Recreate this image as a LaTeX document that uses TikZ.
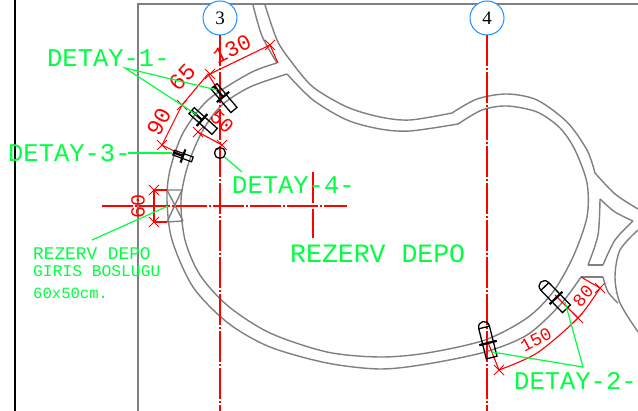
\documentclass[tikz,border=0pt]{standalone}
\usepackage{fontspec}
\setmainfont{Liberation Mono}
\newfontfamily\axisfont{Liberation Serif}
\usepackage{xcolor}
\usetikzlibrary{positioning}
\definecolor{wallgray}{RGB}{128,128,128}
\definecolor{detgreen}{RGB}{0,255,64}
\definecolor{axisblue}{RGB}{30,144,255}
\tikzset{
  wall/.style={draw=wallgray, line width=1.4pt},
  axisline/.style={draw=red, line width=1.3pt, dash pattern=on 31pt off 2pt on 2pt off 2pt},
  dimline/.style={draw=red, line width=1.1pt},
  leader/.style={draw=detgreen, line width=1.2pt},
  axisnode/.style={circle, draw=axisblue, fill=white, line width=1pt, minimum size=34pt, inner sep=0pt, font=\fontsize{19}{19}\axisfont},
  dettext/.style={text=detgreen, inner sep=0pt, anchor=west, font=\fontsize{25.5}{25.5}\selectfont},
  smalltext/.style={text=detgreen, inner sep=0pt, anchor=west},
  dimtext/.style={text=red, inner sep=0pt},
  cross/.pic={\draw[red, line width=.8pt] (-5,-5) -- (5,5) (-5,5) -- (5,-5);},
  doorbig/.pic={
    \draw[black, line width=1.3pt] (-16,-5.5) .. controls (-24,-5.5) and (-24,5.5) .. (-16,5.5) -- (15,5.5) -- (15,-5.5) -- cycle;
    \draw[black, line width=1.3pt] (-16,-5.5) -- (-16,5.5);
    \draw[black, line width=2.2pt] (0,-9) -- (0,9);
  },
  doorsmall/.pic={
    \draw[black, line width=1.3pt] (-14,-4) -- (17,-4) -- (17,4) -- (-14,4) -- cycle;
    \draw[black, line width=2.2pt] (-14,0) -- (0,0) (0,-8) -- (0,8);
  },
  doortiny/.pic={
    \draw[black, line width=1.2pt] (-10,-2.5) -- (10,-2.5) -- (10,2.5) -- (-10,2.5) -- cycle;
    \draw[black, line width=2.2pt] (-10,0) -- (0,0) (0,-7) -- (0,7);
  }
}
\begin{document}
\begin{tikzpicture}
[x=1pt, y=-1pt]
\useasboundingbox (0,0) rectangle (638,411);
\fill[white] (0,0) rectangle (638,411);

\draw[black, line width=1.5pt] (15,0) -- (15,411);
\draw[wall] (138,411) -- (138,4) -- (638,4);

\draw[wall] plot[smooth] coordinates {(253,5) (262,36) (277,63)};
\draw[wall] plot[smooth] coordinates {(265,5) (277,40) (290,60) (313,87) (347,107) (380,117) (410,120) (452,113)};
\draw[wall] plot[smooth] coordinates {(452,113) (477,99) (507,94) (537,100) (567,122) (587,150) (595,173)};
\draw[wall] plot[smooth] coordinates {(595,173) (615,194) (638,209)};
\draw[wall] plot[smooth] coordinates {(287,74) (313,100) (347,120) (380,129) (410,131) (458,124)};
\draw[wall] plot[smooth] coordinates {(458,124) (482,110) (507,106) (537,112) (560,128) (575,150) (587,183) (587,217) (573,257) (553,292) (527,318) (485,340) (427,353) (380,357) (327,352) (270,333) (228,306) (200,275) (185,240) (181,200) (188,165) (203,130) (222,105) (250,87) (287,74)};
\draw[wall] plot[smooth] coordinates {(277,63) (250,73) (208,100) (183,133) (170,170) (167,200) (172,240) (193,287) (228,323) (270,347) (327,363) (380,369) (427,364) (485,352) (527,335) (560,305) (581,277)};
\draw[wall] (581,277) -- (603,277);
\draw[wall] plot[smooth] coordinates {(603,277) (608,292) (618,303)};
\draw[wall] plot[smooth] coordinates {(638,230) (620,250) (615,277) (620,303) (638,332)};
\draw[wall] plot[smooth] coordinates {(600,199) (598,235) (588,265)};
\draw[wall] (588,265) -- (603,265);
\draw[wall] plot[smooth] coordinates {(603,265) (615,240) (633,221)};
\draw[wall] plot[smooth] coordinates {(633,221) (615,212) (600,199)};
\draw[wall] (167,190) -- (182,190) (167,222) -- (183,221) (167,190) -- (183,221) (182,190) -- (167,222);

\node[axisnode] (ax3) at (220,18) {3};
\node[axisnode] (ax4) at (487,18) {4};
\coordinate (ax3end) at (220,411);
\coordinate (ax4end) at (487,411);
\coordinate (hleft) at (102,206);
\coordinate (hright) at (347,206);
\coordinate (vtop) at (313,172);
\coordinate (vbot) at (313,238);
\draw[axisline] (ax3) -- (ax3end);
\draw[axisline] (ax4) -- (ax4end);
\draw[axisline] (hleft) -- (hright);
\draw[axisline] (vtop) -- (vbot);

\draw[dimline] (278,63) -- (270,45) -- (210,74);
\draw[dimline] (220,93) -- (208,74) -- (182,105) -- (162,145) -- (182,155);
\draw[dimline] (198,132) -- (222,145);
\draw[dimline] (167,190) -- (154,190) -- (154,222) -- (167,222);
\draw[dimline] (487,340) -- (499,370);
\draw[dimline] (555,295) -- (578,318);
\draw[dimline] (581,277) -- (600,288);
\draw[dimline] plot[smooth] coordinates {(499,370) (537,353) (578,318) (600,288)};

\pic at (270,45) {cross};
\pic at (210,74) {cross};
\pic at (182,105) {cross};
\pic at (162,145) {cross};
\pic at (198,132) {cross};
\pic at (222,145) {cross};
\pic at (154,190) {cross};
\pic at (154,222) {cross};
\pic at (499,370) {cross};
\pic at (578,318) {cross};
\pic at (600,288) {cross};

\pic[rotate=-50] at (223,97) {doorsmall};
\pic[rotate=-42] at (202,120) {doorsmall};
\pic[rotate=-20] at (183,156) {doortiny};
\pic[rotate=-76] at (488,343) {doorbig};
\pic[rotate=-46] at (556,298) {doorbig};
\node[circle, draw=black, line width=1.3pt, minimum size=11pt, inner sep=0pt] (ring) at (220,153) {};

\node[dimtext, rotate=26, font=\fontsize{22}{22}\selectfont] (d130) at (232,49) {130};
\node[dimtext, rotate=47, font=\fontsize{23}{23}\selectfont] (d65) at (182,77) {65};
\node[dimtext, rotate=62, font=\fontsize{23}{23}\selectfont] (d90) at (159,122) {90};
\node[dimtext, rotate=-42, font=\fontsize{20}{20}\selectfont] (d50) at (222,122) {50};
\node[dimtext, rotate=90, font=\fontsize{20}{20}\selectfont] (d60) at (138,207) {60};
\node[dimtext, rotate=28, font=\fontsize{18}{18}\selectfont] (d150) at (536,340) {150};
\node[dimtext, rotate=50, font=\fontsize{18}{18}\selectfont] (d80) at (583,296) {80};

\node[dettext] (det1) at (47,58) {DETAY-1-};
\node[dettext] (det3) at (8,153) {DETAY-3-};
\node[dettext] (det4) at (232,185) {DETAY-4-};
\node[dettext] (det2) at (514,381) {DETAY-2-};
\node[dettext, font=\fontsize{26.5}{26.5}\selectfont] (depo) at (290,254) {REZERV DEPO};
\node[smalltext, font=\fontsize{17.8}{17.8}\selectfont] (giris1) at (33,254) {REZERV DEPO};
\node[smalltext, font=\fontsize{16.3}{16.3}\selectfont] (giris2) at (33,271) {GIRIS BOSLUGU};
\node[smalltext, font=\fontsize{15.6}{15.6}\selectfont] (giris3) at (33,293) {60x50cm.};

\coordinate (l1) at (125,68);
\coordinate (l1a) at (217,90);
\coordinate (l1b) at (197,115);
\coordinate (l2) at (583,367);
\coordinate (l2a) at (492,352);
\coordinate (l2b) at (565,302);
\coordinate (l3) at (128,153);
\coordinate (l3a) at (172,153);
\coordinate (l4) at (242,172);
\coordinate (l5) at (92,240);
\coordinate (l5a) at (168,206);
\draw[leader] (l1a) -- (l1) -- (l1b);
\draw[leader] (l2a) -- (l2) -- (l2b);
\draw[leader] (l3) -- (l3a);
\draw[leader] (l4) -- (ring);
\draw[leader] (l5) -- (l5a);

\end{tikzpicture}
\end{document}
